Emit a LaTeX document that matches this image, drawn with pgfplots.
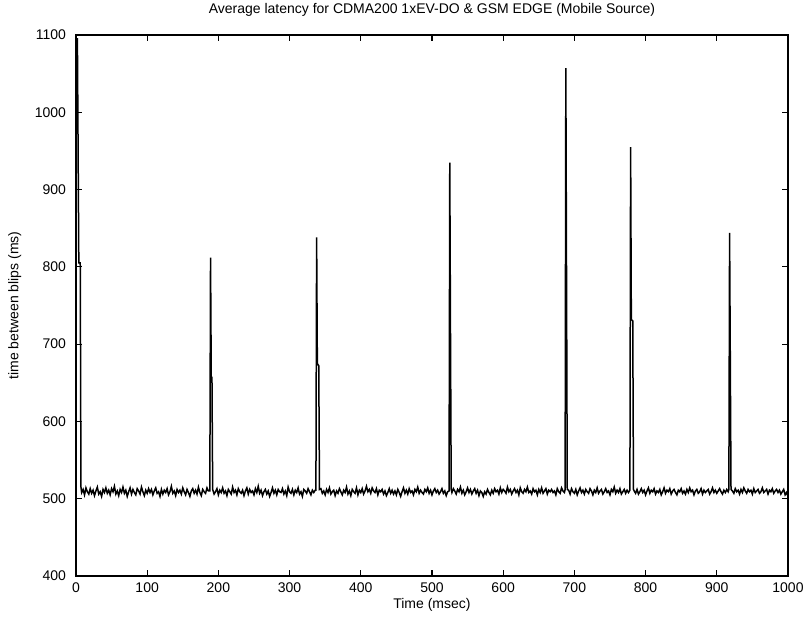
\documentclass[border=0pt]{standalone}
\usepackage{fontspec}
\setmainfont{Liberation Sans}
\usepackage{pgfplots}
\pgfplotsset{compat=1.18}
\begin{document}
\begin{tikzpicture}
\begin{axis}[
  width=356pt, height=270.5pt, scale only axis,
  xmin=0, xmax=1000, ymin=400, ymax=1100,
  xtick={0,100,...,1000}, ytick={400,500,...,1100},
  tick align=inside, tick pos=both,
  major tick length=3pt,
  axis line style={line width=0.8pt},
  every tick/.style={black, line width=0.6pt},
  font=\fontsize{7}{8.4}\selectfont,
  /pgf/number format/assume math mode=true,
  /pgf/number format/set thousands separator={},
  xlabel={Time (msec)},
  xlabel style={at={(axis description cs:0.5,-0.054)}, anchor=center, inner sep=0pt},
  ylabel={time between blips (ms)},
  ylabel style={at={(axis description cs:-0.086,0.5)}, anchor=center, inner sep=0pt},
  yticklabel style={xshift=-1.5pt},
  clip=true,
]
\addplot[black, line width=0.75pt] coordinates {
(0,1095) (2,1095) (4,805) (6,805) (7,515)
(8,508) (10,512) (12,505) (14,514) (16,509) (18,506) (20,513) (22,507) (24,511) (26,504)
(28,510) (30,515) (32,506) (34,509) (36,503) (38,512) (40,508) (42,514) (44,507) (46,511)
(48,505) (50,513) (52,509) (54,516) (56,506) (58,510) (60,504) (62,512) (64,508) (66,515)
(68,507) (70,511) (72,503) (74,509) (76,514) (78,506) (80,512) (82,508) (84,505) (86,513)
(88,510) (90,506) (92,515) (94,509) (96,504) (98,511) (100,507) (102,513) (104,508) (106,512)
(108,505) (110,510) (112,514) (114,507) (116,509) (118,503) (120,512) (122,506) (124,511) (126,508)
(128,513) (130,505) (132,509) (134,516) (136,507) (138,510) (140,504) (142,512) (144,508) (146,511)
(148,506) (150,514) (152,509) (154,505) (156,512) (158,508) (160,503) (162,510) (164,513) (166,507)
(168,511) (170,506) (172,515) (174,508) (176,504) (178,512) (180,509) (182,507) (184,514) (186,510)
(188,510) (189,812) (190,657) (191,657) (192,512)
(194,506) (196,509) (198,513) (200,505) (202,511) (204,508) (206,514)
(208,507) (210,510) (212,504) (214,512) (216,509) (218,506) (220,515) (222,508) (224,511) (226,505)
(228,513) (230,509) (232,507) (234,511) (236,504) (238,510) (240,514) (242,506) (244,512) (246,508)
(248,510) (250,505) (252,513) (254,508) (256,516) (258,507) (260,511) (262,504) (264,509) (266,512)
(268,506) (270,510) (272,503) (274,508) (276,514) (278,507) (280,511) (282,505) (284,512) (286,509)
(288,508) (290,513) (292,506) (294,510) (296,504) (298,515) (300,509) (302,507) (304,512) (306,505)
(308,511) (310,508) (312,514) (314,506) (316,509) (318,503) (320,512) (322,510) (324,507) (326,513)
(328,509) (330,505) (332,511) (334,508) (336,511)
(337,511) (338,838) (339,675) (341,672) (342,512)
(344,513) (346,507) (348,510) (350,505) (352,512) (354,508) (356,514) (358,506) (360,509) (362,511) (364,504) (366,510)
(368,507) (370,513) (372,509) (374,505) (376,511) (378,508) (380,515) (382,506) (384,510) (386,504)
(388,512) (390,509) (392,507) (394,514) (396,505) (398,511) (400,508) (402,513) (404,506) (406,510)
(408,516) (410,509) (412,512) (414,507) (416,514) (418,510) (420,508) (422,513) (424,505) (426,511)
(428,509) (430,512) (432,506) (434,510) (436,504) (438,508) (440,513) (442,507) (444,511) (446,506)
(448,510) (450,505) (452,512) (454,508) (456,503) (458,509) (460,514) (462,507) (464,511) (466,506)
(468,513) (470,508) (472,510) (474,505) (476,512) (478,509) (480,515) (482,507) (484,511) (486,508)
(488,506) (490,512) (492,509) (494,514) (496,507) (498,511) (500,505) (502,510) (504,513) (506,508)
(508,511) (510,506) (512,509) (514,513) (516,507) (518,510) (520,504) (522,509)
(524,510) (525,935) (526,718) (527,512)
(528,508) (530,513) (532,510) (534,506) (536,512) (538,509) (540,515) (542,507) (544,511) (546,505)
(548,509) (550,514) (552,508) (554,512) (556,506) (558,510) (560,513) (562,507) (564,511) (566,504)
(568,510) (570,508) (572,503) (574,509) (576,506) (578,512) (580,508) (582,505) (584,511) (586,507)
(588,513) (590,509) (592,511) (594,506) (596,514) (598,508) (600,512) (602,510) (604,507) (606,515)
(608,509) (610,512) (612,506) (614,510) (616,513) (618,508) (620,511) (622,505) (624,514) (626,509)
(628,507) (630,512) (632,509) (634,515) (636,508) (638,510) (640,506) (642,513) (644,509) (646,511)
(648,505) (650,512) (652,508) (654,514) (656,507) (658,510) (660,513) (662,506) (664,511) (666,509)
(668,512) (670,508) (672,510) (674,505) (676,513) (678,509) (680,507) (682,514) (684,510) (686,508)
(687,512) (688,1057) (689,785) (690,512)
(692,511) (694,506) (696,513) (698,509) (700,507) (702,512) (704,505) (706,510)
(708,514) (710,508) (712,511) (714,506) (716,512) (718,509) (720,507) (722,513) (724,510) (726,505)
(728,511) (730,508) (732,514) (734,507) (736,510) (738,512) (740,506) (742,509) (744,513) (746,508)
(748,510) (750,505) (752,512) (754,509) (756,515) (758,507) (760,511) (762,508) (764,513) (766,506)
(768,509) (770,512) (772,507) (774,511) (776,508)
(778,511) (779,955) (780,732) (782,730) (783,512)
(784,510) (786,507) (788,512) (790,506) (792,509) (794,513) (796,508) (798,511) (800,505) (802,510) (804,514) (806,507)
(808,511) (810,509) (812,513) (814,506) (816,510) (818,508) (820,512) (822,505) (824,509) (826,514)
(828,507) (830,511) (832,509) (834,513) (836,506) (838,510) (840,512) (842,508) (844,505) (846,511)
(848,509) (850,513) (852,507) (854,510) (856,506) (858,512) (860,508) (862,514) (864,509) (866,511)
(868,505) (870,510) (872,512) (874,507) (876,509) (878,513) (880,506) (882,511) (884,508) (886,510)
(888,512) (890,506) (892,509) (894,514) (896,508) (898,511) (900,507) (902,510) (904,513) (906,509)
(908,506) (910,511) (912,508) (914,512) (916,509)
(917,512) (918,844) (919,679) (920,512)
(922,510) (924,507) (926,513) (928,509) (930,511) (932,506) (934,512) (936,508) (938,514) (940,510) (942,507) (944,512) (946,509)
(948,511) (950,506) (952,513) (954,508) (956,510) (958,512) (960,507) (962,509) (964,514) (966,508)
(968,510) (970,512) (972,506) (974,511) (976,509) (978,513) (980,507) (982,510) (984,512) (986,508)
(988,511) (990,506) (992,509) (994,512) (996,505) (998,508) (1000,503)
};
\coordinate (bl) at (rel axis cs:-0.1067,-0.0887);
\coordinate (tr) at (rel axis cs:1.0225,1.0647);
\coordinate (tt) at (rel axis cs:0.5,1.046);
\end{axis}
\node[font=\fontsize{7}{8.4}\selectfont, inner sep=0pt, anchor=center] at (tt) {Average latency for CDMA200 1xEV-DO \& GSM EDGE (Mobile Source)};
\pgfresetboundingbox
\path[use as bounding box] (bl) rectangle (tr);
\end{tikzpicture}
\end{document}
